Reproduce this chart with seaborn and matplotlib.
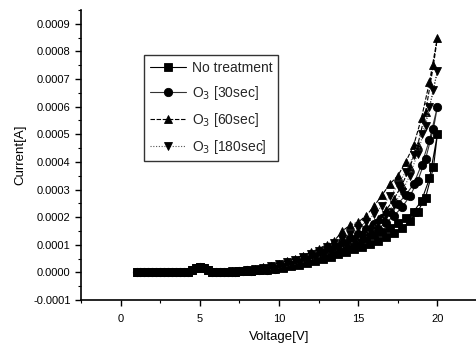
import numpy as np
import pandas as pd
import matplotlib
matplotlib.use("Agg")
import matplotlib.pyplot as plt
import seaborn as sns
from matplotlib.ticker import MultipleLocator, FormatStrFormatter

# voltage sweep: forward 1 -> 20 V, then back 19.75 -> 1.25 V
v_fwd = [1.0, 1.5, 2.0, 2.5, 3.0, 3.5, 4.0, 4.5, 5.0, 5.5, 6.0, 6.5, 7.0, 7.5,
         8.0, 8.5, 9.0, 9.5, 10.0, 10.5, 11.0, 11.5, 12.0, 12.5, 13.0, 13.5,
         14.0, 14.5, 15.0, 15.5, 16.0, 16.5, 17.0, 17.5, 18.0, 18.5, 19.0,
         19.5, 20.0]
v_rev = [19.75, 19.25, 18.75, 18.25, 17.75, 17.25, 16.75, 16.25, 15.75, 15.25,
         14.75, 14.25, 13.75, 13.25, 12.75, 12.25, 11.75, 11.25, 10.75, 10.25,
         9.75, 9.25, 8.75, 8.25, 7.75, 7.25, 6.75, 6.25, 5.75, 5.25,
         4.75, 4.25, 3.75, 3.25, 2.75, 2.25, 1.75, 1.25]

# currents in units of 1e-4 A
none_fwd = [0, 0, 0, 0, 0, 0, 0, 0.1, 0.2, 0.08, 0.02, 0.02, 0.03, 0.04,
            0.06, 0.08, 0.11, 0.15, 0.2, 0.27, 0.35, 0.44, 0.53, 0.62, 0.72,
            0.82, 0.92, 1.02, 1.12, 1.23, 1.35, 1.48, 1.62, 1.78, 1.96, 2.2,
            2.6, 3.4, 5.0]
none_rev = [3.8, 2.7, 2.2, 1.85, 1.6, 1.42, 1.28, 1.15, 1.03, 0.93,
            0.83, 0.74, 0.65, 0.57, 0.49, 0.42, 0.35, 0.28, 0.22, 0.17,
            0.13, 0.1, 0.07, 0.05, 0.04, 0.03, 0.02, 0.02, 0.03, 0.15,
            0.15, 0.03, 0, 0, 0, 0, 0, 0]

o3_30_fwd = [0, 0, 0, 0, 0, 0, 0, 0.1, 0.2, 0.08, 0.02, 0.02, 0.03, 0.05,
             0.07, 0.1, 0.13, 0.18, 0.24, 0.32, 0.41, 0.51, 0.62, 0.73, 0.85,
             0.97, 1.1, 1.24, 1.4, 1.57, 1.76, 1.97, 2.2, 2.48, 2.8, 3.2,
             3.9, 4.8, 6.0]
o3_30_rev = [5.2, 4.1, 3.3, 2.75, 2.35, 2.05, 1.8, 1.58, 1.38, 1.2,
             1.05, 0.92, 0.8, 0.69, 0.59, 0.49, 0.4, 0.32, 0.25, 0.19,
             0.14, 0.1, 0.07, 0.05, 0.04, 0.03, 0.02, 0.02, 0.03, 0.15,
             0.15, 0.03, 0, 0, 0, 0, 0, 0]

o3_60_fwd = [0, 0, 0, 0, 0, 0, 0, 0.1, 0.2, 0.08, 0.02, 0.03, 0.04, 0.06,
             0.09, 0.13, 0.18, 0.24, 0.31, 0.4, 0.5, 0.61, 0.73, 0.86, 1.0,
             1.15, 1.5, 1.72, 1.82, 2.05, 2.4, 2.8, 3.2, 3.5, 4.0, 4.6,
             5.6, 6.9, 8.5]
o3_60_rev = [7.5, 5.8, 4.6, 3.8, 3.15, 2.65, 2.25, 1.92, 1.64, 1.4,
             1.2, 1.04, 0.9, 0.78, 0.66, 0.55, 0.45, 0.36, 0.28, 0.21,
             0.15, 0.11, 0.08, 0.05, 0.04, 0.03, 0.02, 0.02, 0.03, 0.15,
             0.15, 0.03, 0, 0, 0, 0, 0, 0]

o3_180_fwd = [0, 0, 0, 0, 0, 0, 0, 0.1, 0.2, 0.08, 0.02, 0.03, 0.04, 0.06,
              0.08, 0.12, 0.17, 0.22, 0.29, 0.37, 0.46, 0.56, 0.67, 0.79, 0.92,
              1.06, 1.22, 1.4, 1.6, 1.83, 2.1, 2.4, 2.75, 3.15, 3.65, 4.25,
              5.0, 6.0, 7.3]
o3_180_rev = [6.6, 5.3, 4.3, 3.5, 2.9, 2.45, 2.08, 1.78, 1.52, 1.3,
              1.12, 0.97, 0.84, 0.72, 0.61, 0.51, 0.42, 0.34, 0.26, 0.2,
              0.14, 0.1, 0.07, 0.05, 0.04, 0.03, 0.02, 0.02, 0.03, 0.15,
              0.15, 0.03, 0, 0, 0, 0, 0, 0]

labels = ["No treatment", "O$_3$ [30sec]", "O$_3$ [60sec]", "O$_3$ [180sec]"]
curves = [(none_fwd, none_rev), (o3_30_fwd, o3_30_rev),
          (o3_60_fwd, o3_60_rev), (o3_180_fwd, o3_180_rev)]

rows = []
for lab, (fwd, rev) in zip(labels, curves):
    volts = v_fwd + v_rev
    amps = np.array(fwd + rev) * 1e-4
    for i, (v, a) in enumerate(zip(volts, amps)):
        rows.append({"series": lab, "step": i, "V": v, "I": a})
df = pd.DataFrame(rows)

sns.set_style("ticks")
plt.rcParams["font.family"] = ["Liberation Sans", "DejaVu Sans"]

fig = plt.figure(figsize=(4.77, 3.45), dpi=100)
ax = fig.add_axes([0.17, 0.1304, 0.83, 0.8406])

styles = {
    "No treatment": dict(marker="s", ls="-", color="black"),
    "O$_3$ [30sec]": dict(marker="o", ls="-", color="#333333"),
    "O$_3$ [60sec]": dict(marker="^", ls=(0, (4, 1.5)), color="black"),
    "O$_3$ [180sec]": dict(marker="v", ls=(0, (1, 1.5)), color="#555555"),
}
for lab in labels:
    st = styles[lab]
    sub = df[df["series"] == lab]
    sns.lineplot(data=sub, x="V", y="I", sort=False, estimator=None, ax=ax,
                 color=st["color"], linestyle=st["ls"], lw=0.8,
                 marker=st["marker"], markersize=6, markerfacecolor="black",
                 markeredgecolor="black", markeredgewidth=0.6, label=lab)

ax.set_xlim(-2.5, 22.5)
ax.set_ylim(-0.0001, 0.00095)
ax.xaxis.set_major_locator(MultipleLocator(5))
ax.xaxis.set_minor_locator(MultipleLocator(2.5))
ax.yaxis.set_major_locator(MultipleLocator(0.0001))
ax.yaxis.set_minor_locator(MultipleLocator(0.00005))
ax.yaxis.set_major_formatter(FormatStrFormatter("%.4f"))
ax.tick_params(which="major", direction="out", length=4, width=1,
               labelsize=8, color="black", labelcolor="black")
ax.tick_params(axis="x", which="major", pad=6)
ax.tick_params(which="minor", direction="out", length=2, width=0.8,
               color="black")
for s in ["top", "right"]:
    ax.spines[s].set_visible(False)
for s in ["left", "bottom"]:
    ax.spines[s].set_color("black")
    ax.spines[s].set_linewidth(1.2)

ax.set_xlabel("Voltage[V]", fontsize=9.5, color="black", labelpad=5)
ax.set_ylabel("Current[A]", fontsize=9.5, color="black", labelpad=5)

leg = ax.legend(loc="upper left", bbox_to_anchor=(0.16, 0.845), fontsize=10,
                frameon=True, fancybox=False, edgecolor="black",
                handlelength=2.6, handletextpad=0.4, borderpad=0.4,
                labelspacing=0.65, borderaxespad=0)
leg.get_frame().set_linewidth(1.0)

fig.savefig("out.png", dpi=100)
